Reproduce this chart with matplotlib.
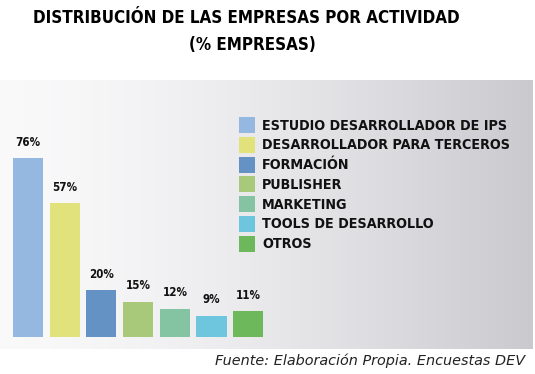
import matplotlib
matplotlib.use("Agg")
import matplotlib.pyplot as plt
import numpy as np
from matplotlib.patches import Rectangle

# ── data ──
categories = [
    "ESTUDIO DESARROLLADOR DE IPS",
    "DESARROLLADOR PARA TERCEROS",
    "FORMACIÓN",
    "PUBLISHER",
    "MARKETING",
    "TOOLS DE DESARROLLO",
    "OTROS",
]
values = [76, 57, 20, 15, 12, 9, 11]
colors = ["#94b8e0", "#e2e27c", "#6492c4", "#a8c97a", "#84c4a2", "#6ec6de", "#6db85a"]

W, H = 535, 374
fig = plt.figure(figsize=(W / 100, H / 100), dpi=100)
fig.patch.set_facecolor("white")

def px(x, y, w, h):
    # pixel box (from top-left) -> figure fraction rect
    return [x / W, 1 - (y + h) / H, w / W, h / H]

# ── gradient panel ──
bg = fig.add_axes(px(0, 80, 533, 269))
bg.axis("off")
t = np.linspace(0, 1, 256) ** 1.5
left = np.array([0.978, 0.978, 0.982])
right = np.array([0.79, 0.79, 0.81])
grad = left[None, None, :] * (1 - t[None, :, None]) + right[None, None, :] * t[None, :, None]
bg.imshow(grad, aspect="auto", extent=[0, 1, 0, 1])
bg.set_xlim(0, 1)
bg.set_ylim(0, 1)

# ── bars ──
ax = fig.add_axes(px(9.6, 337 - 235, 257, 235))
ax.set_xlim(-0.5, 6.5)
ax.set_ylim(0, 100)
ax.axis("off")
x = np.arange(len(values))
ax.bar(x, values, width=0.82, color=colors, edgecolor="none")
for xi, v in zip(x, values):
    ax.text(xi, v + 4, f"{v}%", ha="center", va="bottom", fontsize=8.3,
            fontweight="bold", fontstretch="condensed", color="#111111")

# ── legend ──
for i, (lab, c) in enumerate(zip(categories, colors)):
    y = 117 + i * 19.8
    fig.add_artist(Rectangle((239 / W, 1 - (y + 16) / H), 16 / W, 16 / H,
                             transform=fig.transFigure, facecolor=c,
                             edgecolor="none"))
    fig.text(262 / W, 1 - (y + 8.5) / H, lab, ha="left", va="center",
             fontsize=10.3, fontweight="bold", fontstretch="condensed",
             color="#111111")

# ── titles ──
fig.text(246 / W, 1 - 18 / H, "DISTRIBUCIÓN DE LAS EMPRESAS POR ACTIVIDAD",
         ha="center", va="center", fontsize=12.2, fontweight="bold",
         fontstretch="condensed", color="black")
fig.text(252 / W, 1 - 45 / H, "(% EMPRESAS)", ha="center", va="center",
         fontsize=12.2, fontweight="bold", fontstretch="condensed", color="black")

fig.text(525 / W, 1 - 361 / H, "Fuente: Elaboración Propia. Encuestas DEV",
         ha="right", va="center", fontsize=10.4, style="italic", color="#222222")

fig.savefig("out.png", dpi=100, facecolor="white")
